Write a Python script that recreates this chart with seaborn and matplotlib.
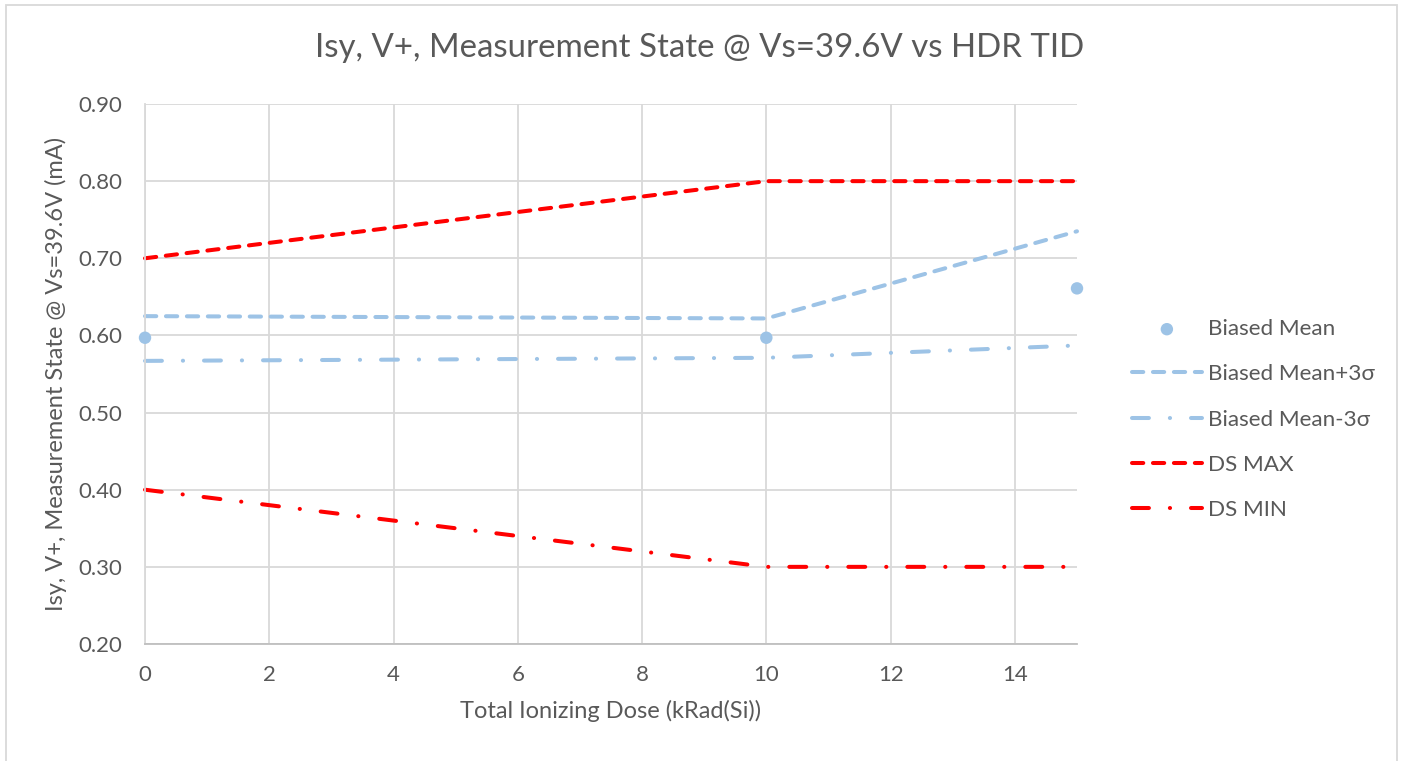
import matplotlib
matplotlib.use("Agg")
import matplotlib.pyplot as plt
import matplotlib.patches as mpatches
import seaborn as sns
import pandas as pd

# ---- data ----
dose = [0, 10, 15]
biased_mean = [0.597, 0.597, 0.661]
mean_plus_3s = [0.625, 0.622, 0.735]
mean_minus_3s = [0.567, 0.571, 0.587]
ds_max = [0.70, 0.80, 0.80]
ds_min = [0.40, 0.30, 0.30]

x_ticks = [0, 2, 4, 6, 8, 10, 12, 14]
y_ticks = [0.20, 0.30, 0.40, 0.50, 0.60, 0.70, 0.80, 0.90]

title = "Isy, V+, Measurement State @ Vs=39.6V vs HDR TID"
xlabel = "Total Ionizing Dose (kRad(Si))"
ylabel = "Isy, V+, Measurement State @ Vs=39.6V (mA)"

BLUE = "#9DC3E6"
RED = "#FF0000"
GRID = "#D9D9D9"
TEXT = "#595959"

sns.set_theme(style="white")
plt.rcParams['font.family'] = ['Lato', 'DejaVu Sans']

fig = plt.figure(figsize=(14.01, 7.61), dpi=100)
ax = fig.add_axes([145/1401, 1-644/761, (1077-145)/1401, (644-104)/761])

df = pd.DataFrame({"dose": dose, "mean": biased_mean, "plus": mean_plus_3s,
                   "minus": mean_minus_3s, "max": ds_max, "min": ds_min})

lw = 2.9
dash = (0, (2.8, 2.4))
dashdot = (0, (4.2, 5.2, 0.05, 5.2))

sns.scatterplot(data=df, x="dose", y="mean", ax=ax, color=BLUE, s=80,
                edgecolor="none", label="Biased Mean", zorder=5, clip_on=False)
sns.lineplot(data=df, x="dose", y="plus", ax=ax, color=BLUE, lw=lw,
             linestyle=dash, dash_capstyle="round", label="Biased Mean+3σ", clip_on=False)
sns.lineplot(data=df, x="dose", y="minus", ax=ax, color=BLUE, lw=lw,
             linestyle=dashdot, dash_capstyle="round", label="Biased Mean-3σ", clip_on=False)
sns.lineplot(data=df, x="dose", y="max", ax=ax, color=RED, lw=lw,
             linestyle=dash, dash_capstyle="round", label="DS MAX", clip_on=False)
sns.lineplot(data=df, x="dose", y="min", ax=ax, color=RED, lw=lw,
             linestyle=dashdot, dash_capstyle="round", label="DS MIN", clip_on=False)

ax.set_xlim(0, 15)
ax.set_ylim(0.2, 0.9)
ax.set_xticks(x_ticks)
ax.set_yticks(y_ticks)
ax.set_yticklabels([f"{v:.2f}" for v in y_ticks])
ax.grid(True, color=GRID, lw=1.3)
ax.set_axisbelow(True)
for s in ["top", "right"]:
    ax.spines[s].set_visible(False)
ax.spines["left"].set_color(GRID)
ax.spines["left"].set_linewidth(1.3)
ax.spines["bottom"].set_color("#BFBFBF")
ax.spines["bottom"].set_linewidth(1.3)
ax.tick_params(axis="both", length=0, labelsize=16, labelcolor=TEXT)
ax.tick_params(axis="y", pad=16.5)
ax.tick_params(axis="x", pad=15)

ax.set_xlabel(xlabel, fontsize=17, color=TEXT, labelpad=11)
ax.set_ylabel(ylabel, fontsize=17, color=TEXT, labelpad=8)
fig.text(700/1401, 1-48/761, title, fontsize=23.8, color=TEXT, ha="center", va="center")

leg = ax.legend(loc="center left", bbox_to_anchor=(1132/1401, 1-419.5/761),
                bbox_transform=fig.transFigure, frameon=False, fontsize=16.2,
                handlelength=3.1, handletextpad=0.3, labelspacing=1.12,
                borderpad=0, borderaxespad=0, labelcolor=TEXT)

fig.patches.append(mpatches.Rectangle((6/1401, -0.01), (1397-6)/1401, 1-5/761+0.01,
                                      transform=fig.transFigure, fill=False,
                                      edgecolor=GRID, lw=1.3))

fig.savefig("out.png", dpi=100)
